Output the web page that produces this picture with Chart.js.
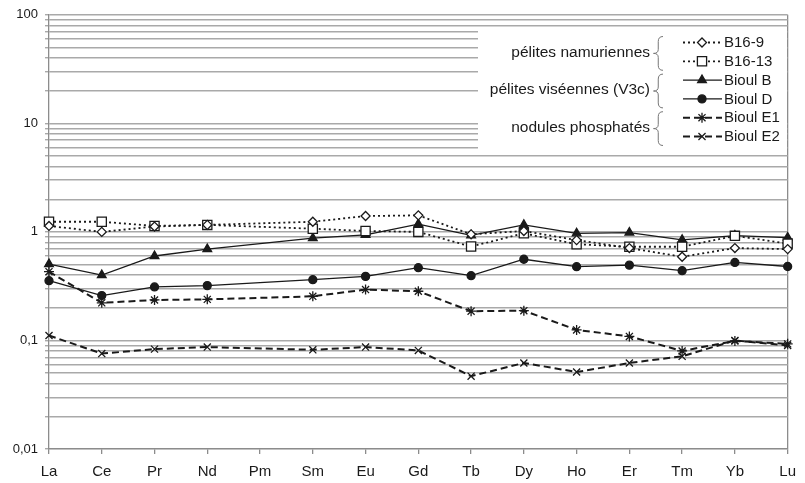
<!DOCTYPE html>
<html>
<head>
<meta charset="utf-8">
<script src="https://cdn.jsdelivr.net/npm/chart.js@4"></script>
<style>
  html, body { margin: 0; padding: 0; background: #fff; }
  canvas { display: block; }
</style>
</head>
<body>
<canvas id="c" width="805" height="483"></canvas>
<script>
// ---------- data ----------
const categories = ['La','Ce','Pr','Nd','Pm','Sm','Eu','Gd','Tb','Dy','Ho','Er','Tm','Yb','Lu'];

const b16_9   = [1.135, 1.00, 1.12, 1.16, null, 1.24, 1.40, 1.42, 0.95, 1.02, 0.84, 0.71, 0.59, 0.71, 0.694];
const b16_13  = [1.24, 1.24, 1.135, 1.16, null, 1.07, 1.02, 1.00, 0.733, 0.97, 0.77, 0.73, 0.73, 0.92, 0.78];
const bioulB  = [0.505, 0.40, 0.60, 0.694, null, 0.875, 0.94, 1.18, 0.93, 1.16, 0.97, 0.985, 0.845, 0.925, 0.887];
const bioulD  = [0.355, 0.259, 0.311, 0.32, null, 0.363, 0.389, 0.468, 0.395, 0.56, 0.478, 0.494, 0.439, 0.523, 0.48];
const bioulE1 = [0.43, 0.222, 0.236, 0.239, null, 0.255, 0.294, 0.284, 0.186, 0.188, 0.125, 0.109, 0.080, 0.099, 0.093];
const bioulE2 = [0.111, 0.0757, 0.0832, 0.0869, null, 0.082, 0.0869, 0.0809, 0.0469, 0.062, 0.0512, 0.062, 0.0714, 0.100, 0.090];

const seriesNames = ['B16-9','B16-13','Bioul B','Bioul D','Bioul E1','Bioul E2'];

const yGridValues = [
  0.01,0.02,0.03,0.04,0.05,0.06,0.07,0.08,0.09,
  0.1,0.2,0.3,0.4,0.5,0.6,0.7,0.8,0.9,
  1,2,3,4,5,6,7,8,9,
  10,20,30,40,50,60,70,80,90,
  100
];
const yLabelValues = [0.01, 0.1, 1, 10, 100];
const yLabelTexts  = ['0,01', '0,1', '1', '10', '100'];

const groups = [
  { label: 'pélites namuriennes', from: 0, to: 1 },
  { label: 'pélites viséennes (V3c)', from: 2, to: 3 },
  { label: 'nodules phosphatés', from: 4, to: 5 }
];

// ---------- styles ----------
const FONT = '"Liberation Sans", Arial, Helvetica, sans-serif';
const INK = '#1a1a1a';
const GRID = '#a9a9a9';
const AXIS = '#8c8c8c';

const styles = [
  { pointStyle: 'rectRot', radius: 4.5, bg: '#fff', dash: [2, 3], width: 1.8 },
  { pointStyle: 'rect',    radius: 6.5, bg: '#fff', dash: [2, 3], width: 1.8 },
  { pointStyle: 'triangle',radius: 5,   bg: INK,    dash: [],     width: 1.3 },
  { pointStyle: 'circle',  radius: 4,   bg: INK,    dash: [],     width: 1.3 },
  { pointStyle: 'star',    radius: 5,   bg: INK,    dash: [7, 4], width: 2 },
  { pointStyle: 'crossRot',radius: 5,   bg: INK,    dash: [7, 4], width: 2 }
];

const seriesData = [b16_9, b16_13, bioulB, bioulD, bioulE1, bioulE2];

const datasets = seriesData.map((d, i) => ({
  label: seriesNames[i],
  data: d,
  borderColor: INK,
  borderWidth: styles[i].width,
  borderDash: styles[i].dash,
  pointStyle: styles[i].pointStyle,
  pointRadius: styles[i].radius,
  pointHoverRadius: styles[i].radius,
  pointBackgroundColor: styles[i].bg,
  pointBorderColor: INK,
  pointBorderWidth: 1.3,
  spanGaps: true,
  tension: 0,
  fill: false
}));
// draw order: later datasets under earlier ones like in original
datasets.forEach((ds, i) => { ds.order = i; });

// ---------- legend plugin ----------
function drawMarker(ctx, st, x, y) {
  const opts = { pointStyle: st.pointStyle, radius: st.radius, rotation: 0, borderWidth: 1.3 };
  ctx.save();
  ctx.setLineDash([]);
  ctx.fillStyle = st.bg;
  ctx.strokeStyle = INK;
  ctx.lineWidth = 1.3;
  if (Chart.helpers && Chart.helpers.drawPoint) {
    Chart.helpers.drawPoint(ctx, opts, x, y);
  }
  ctx.restore();
}

function drawBrace(ctx, xTip, xBack, y1, y2) {
  const ym = (y1 + y2) / 2;
  const xm = (xTip + xBack) / 2;
  ctx.beginPath();
  ctx.moveTo(xBack, y1);
  ctx.quadraticCurveTo(xm, y1, xm, y1 + 5);
  ctx.lineTo(xm, ym - 4);
  ctx.quadraticCurveTo(xm, ym, xTip, ym);
  ctx.quadraticCurveTo(xm, ym, xm, ym + 4);
  ctx.lineTo(xm, y2 - 5);
  ctx.quadraticCurveTo(xm, y2, xBack, y2);
  ctx.stroke();
}

const groupLegend = {
  id: 'groupLegend',
  afterDraw(chart) {
    const ctx = chart.ctx;
    const boxX = 478, boxY = 28, boxW = 309, boxH = 122;
    const y0 = 42.5, step = 18.8;
    const lineX1 = 683, lineX2 = 722, markX = 702, textX = 724;
    ctx.save();
    ctx.fillStyle = '#fff';
    ctx.fillRect(boxX, boxY, boxW, boxH);

    ctx.font = '15px ' + FONT;
    ctx.textBaseline = 'middle';
    chart.data.datasets.forEach((ds, i) => {
      const y = y0 + i * step;
      ctx.save();
      ctx.strokeStyle = INK;
      ctx.lineWidth = styles[i].width;
      ctx.setLineDash(styles[i].dash);
      ctx.beginPath();
      ctx.moveTo(lineX1, y);
      ctx.lineTo(lineX2, y);
      ctx.stroke();
      ctx.restore();
      drawMarker(ctx, styles[i], markX, y);
      ctx.fillStyle = INK;
      ctx.textAlign = 'left';
      ctx.fillText(ds.label, textX, y + 0.5);
    });

    ctx.strokeStyle = '#777';
    ctx.lineWidth = 1;
    ctx.setLineDash([]);
    groups.forEach(g => {
      const yTop = y0 + g.from * step;
      const yBot = y0 + g.to * step;
      const ym = (yTop + yBot) / 2;
      ctx.fillStyle = INK;
      ctx.textAlign = 'right';
      ctx.font = '15.5px ' + FONT;
      ctx.fillText(g.label, 650, ym + 0.5);
      drawBrace(ctx, 653.5, 663, yTop - 6, yBot + 9);
    });
    ctx.restore();
  }
};

// ---------- chart ----------
new Chart(document.getElementById('c'), {
  type: 'line',
  data: { labels: categories, datasets },
  plugins: [groupLegend],
  options: {
    responsive: false,
    animation: false,
    devicePixelRatio: 1,
    layout: { padding: { left: 0, right: 9, top: 13, bottom: 0 } },
    plugins: {
      legend: { display: false },
      tooltip: { enabled: false },
      title: { display: false }
    },
    scales: {
      x: {
        type: 'category',
        offset: false,
        grid: {
          color: (c) => (c.index === categories.length - 1 ? AXIS : 'rgba(0,0,0,0)'),
          tickColor: AXIS,
          tickLength: 5,
          lineWidth: 1.3
        },
        border: { color: AXIS, width: 1.3 },
        ticks: {
          color: INK,
          font: { family: FONT, size: 15 },
          padding: 9,
          maxRotation: 0,
          autoSkip: false
        },
        afterFit: (s) => { s.height = 34; }
      },
      y: {
        type: 'logarithmic',
        min: 0.01,
        max: 100,
        afterBuildTicks: (s) => { s.ticks = yGridValues.map(v => ({ value: v })); },
        grid: {
          color: GRID,
          tickColor: GRID,
          lineWidth: 1.4,
          tickLength: 4
        },
        border: { color: AXIS, width: 1.3 },
        ticks: {
          autoSkip: false,
          color: INK,
          font: { family: FONT, size: 13 },
          padding: 7,
          callback: (v) => {
            const k = yLabelValues.findIndex(x => Math.abs(x - v) < v * 1e-6);
            return k >= 0 ? yLabelTexts[k] : '';
          }
        },
        afterFit: (s) => { s.width = 49; }
      }
    }
  }
});
</script>
</body>
</html>
